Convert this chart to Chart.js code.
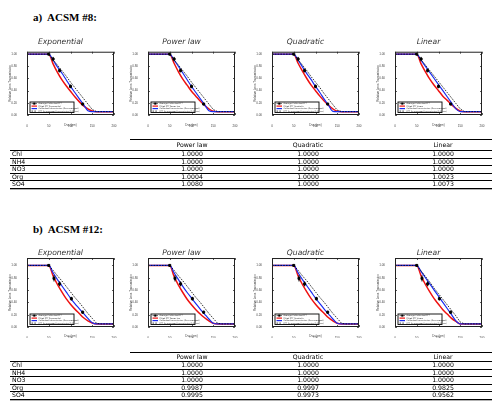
<!DOCTYPE html>
<html>
<head>
<meta charset="utf-8">
<script src="https://cdn.jsdelivr.net/npm/chart.js@4.4.0/dist/chart.umd.min.js"></script>
<style>
  body { margin: 0; width: 492px; height: 416px; position: relative; background: #fff; overflow: hidden; font-family: "DejaVu Sans", sans-serif; }
  .head { position: absolute; left: 33px; font: bold 11px "Liberation Serif", serif; line-height: 12px; white-space: pre; color: #000; }
  canvas { position: absolute; }
</style>
</head>
<body>
<div class="head" style="top:11px">a)  ACSM #8:</div>
<div class="head" style="top:223px">b)  ACSM #12:</div>
<canvas id="tables" width="492" height="416" style="left:0;top:0"></canvas>

<script>
const fitNames = ["Exponential", "Power law", "Quadratic", "Linear"];
const xTicks = [0, 50, 100, 150, 200];
const xGrid = [0, 50, 60, 70, 80, 90, 100, 110, 120, 130, 140, 150, 160, 170, 200];

// ACSM #8
const pointXA = [50, 60, 75, 100, 128];
const pointYA = [1.0, 0.92, 0.73, 0.47, 0.18];
const pointErrA = [0.01, 0.035, 0.03, 0.03, 0.02];
const redA = [
  [1, 1, 0.84, 0.70, 0.58, 0.48, 0.39, 0.30, 0.22, 0.15, 0.10, 0.065, 0.055, 0.055, 0.055],
  [1, 1, 0.85, 0.71, 0.59, 0.49, 0.39, 0.31, 0.23, 0.16, 0.10, 0.06, 0.055, 0.055, 0.055],
  [1, 1, 0.85, 0.72, 0.60, 0.49, 0.40, 0.31, 0.23, 0.16, 0.10, 0.06, 0.055, 0.055, 0.055],
  [1, 1, 0.84, 0.71, 0.59, 0.49, 0.40, 0.31, 0.24, 0.17, 0.11, 0.065, 0.055, 0.055, 0.055],
];
const blueA = [
  [1, 1, 0.90, 0.79, 0.69, 0.58, 0.47, 0.37, 0.27, 0.17, 0.07, 0.055, 0.055, 0.055, 0.055],
  [1, 1, 0.90, 0.80, 0.69, 0.58, 0.47, 0.37, 0.27, 0.17, 0.07, 0.055, 0.055, 0.055, 0.055],
  [1, 1, 0.90, 0.79, 0.68, 0.58, 0.47, 0.37, 0.26, 0.16, 0.06, 0.055, 0.055, 0.055, 0.055],
  [1, 1, 0.90, 0.80, 0.70, 0.60, 0.50, 0.40, 0.30, 0.20, 0.10, 0.055, 0.055, 0.055, 0.055],
];
const dashA = [
  [1, 1, 0.91, 0.82, 0.73, 0.64, 0.54, 0.45, 0.36, 0.27, 0.18, 0.09, 0.055, 0.055, 0.055],
  [1, 1, 0.91, 0.82, 0.73, 0.64, 0.54, 0.45, 0.36, 0.27, 0.18, 0.09, 0.055, 0.055, 0.055],
  [1, 1, 0.91, 0.82, 0.73, 0.63, 0.54, 0.45, 0.35, 0.26, 0.17, 0.08, 0.055, 0.055, 0.055],
  [1, 1, 0.91, 0.82, 0.73, 0.64, 0.55, 0.46, 0.37, 0.28, 0.19, 0.10, 0.055, 0.055, 0.055],
];

// ACSM #12
const pointXB = [50, 62, 75, 102, 128];
const pointYB = [1.0, 0.79, 0.70, 0.46, 0.24];
const pointErrB = [0.01, 0.05, 0.04, 0.03, 0.025];
const redB = [
  [1, 1, 0.83, 0.69, 0.57, 0.46, 0.37, 0.29, 0.22, 0.15, 0.10, 0.065, 0.05, 0.05, 0.05],
  [1, 1, 0.82, 0.68, 0.56, 0.45, 0.36, 0.28, 0.21, 0.15, 0.10, 0.06, 0.05, 0.05, 0.05],
  [1, 1, 0.83, 0.69, 0.57, 0.46, 0.37, 0.29, 0.22, 0.15, 0.10, 0.06, 0.05, 0.05, 0.05],
  [1, 1, 0.83, 0.69, 0.57, 0.46, 0.37, 0.28, 0.21, 0.14, 0.09, 0.05, 0.05, 0.05, 0.05],
];
const blueB = [
  [1, 1, 0.88, 0.77, 0.67, 0.57, 0.47, 0.38, 0.30, 0.22, 0.14, 0.07, 0.05, 0.05, 0.05],
  [1, 1, 0.88, 0.77, 0.66, 0.56, 0.47, 0.38, 0.29, 0.21, 0.13, 0.06, 0.05, 0.05, 0.05],
  [1, 1, 0.88, 0.77, 0.67, 0.57, 0.47, 0.38, 0.29, 0.21, 0.13, 0.06, 0.05, 0.05, 0.05],
  [1, 1, 0.90, 0.80, 0.70, 0.60, 0.50, 0.40, 0.30, 0.20, 0.10, 0.05, 0.05, 0.05, 0.05],
];
const dashB = [
  [1, 1, 0.92, 0.83, 0.75, 0.66, 0.57, 0.48, 0.40, 0.31, 0.22, 0.14, 0.06, 0.05, 0.05],
  [1, 1, 0.92, 0.83, 0.75, 0.66, 0.57, 0.48, 0.40, 0.31, 0.22, 0.14, 0.06, 0.05, 0.05],
  [1, 1, 0.92, 0.83, 0.75, 0.66, 0.57, 0.48, 0.40, 0.31, 0.22, 0.14, 0.06, 0.05, 0.05],
  [1, 1, 0.91, 0.82, 0.73, 0.63, 0.54, 0.45, 0.36, 0.27, 0.18, 0.08, 0.05, 0.05, 0.05],
];

const legendTexts = ["Average Calibrated EFF", "Fitted EFF ", "Calibrated transmission (Dva averaged)", "EFF for averaged transmission (100 nm)"];

// tables
const rowNames = ["Chl", "NH4", "NO3", "Org", "SO4"];
const colNames = ["Power law", "Quadratic", "Linear"];
const ratiosA = [
  [1.0000, 1.0000, 1.0000, 1.0004, 1.0080],
  [1.0000, 1.0000, 1.0000, 1.0000, 1.0000],
  [1.0000, 1.0000, 1.0000, 1.0023, 1.0073],
];
const ratiosB = [
  [1.0000, 1.0000, 1.0000, 0.9987, 0.9995],
  [1.0000, 1.0000, 1.0000, 0.9997, 0.9973],
  [1.0000, 1.0000, 1.0000, 0.9825, 0.9562],
];

const plotLefts = [27, 148, 272, 395];

function toXY(xs, ys) {
  const out = [];
  for (let i = 0; i < xs.length; i++) out.push({ x: xs[i], y: ys[i] });
  return out;
}

function errorBars(xs, ys, errs) {
  const out = [];
  for (let i = 0; i < xs.length; i++) {
    out.push({ x: xs[i], y: ys[i] - errs[i] });
    out.push({ x: xs[i], y: ys[i] + errs[i] });
    out.push({ x: xs[i], y: null });
  }
  return out;
}

const framePlugin = {
  id: "frame",
  afterDatasetsDraw(chart) {
    const ctx = chart.ctx;
    const a = chart.chartArea;
    const x = chart.scales.x;
    const y = chart.scales.y;
    ctx.save();

    ctx.strokeStyle = "#333";
    ctx.lineWidth = 0.8;
    ctx.beginPath();
    x.ticks.forEach(t => {
      const px = Math.round(x.getPixelForValue(t.value)) + 0.5;
      ctx.moveTo(px, a.bottom); ctx.lineTo(px, a.bottom - 2);
      ctx.moveTo(px, a.top); ctx.lineTo(px, a.top + 2);
    });
    y.ticks.forEach(t => {
      const py = Math.round(y.getPixelForValue(t.value)) + 0.5;
      ctx.moveTo(a.left, py); ctx.lineTo(a.left + 2, py);
      ctx.moveTo(a.right, py); ctx.lineTo(a.right - 2, py);
    });
    ctx.stroke();

    // legend box inside the plot, bottom left
    const w = 44, h = 10.5;
    const x0 = a.left + 3, y0 = a.bottom - 2.5 - h;
    ctx.fillStyle = "#fff";
    ctx.fillRect(x0, y0, w, h);
    ctx.strokeStyle = "#000";
    ctx.lineWidth = 0.9;
    ctx.strokeRect(x0, y0, w, h);
    ctx.font = "2px 'DejaVu Sans'";
    ctx.textBaseline = "middle";
    const items = chart.data.datasets.filter(d => d.legendText);
    items.forEach((d, i) => {
      const ly = y0 + 1.6 + i * 2.5;
      ctx.strokeStyle = d.borderColor;
      ctx.lineWidth = d.legendWidth;
      ctx.setLineDash(d.borderDash || []);
      ctx.beginPath();
      ctx.moveTo(x0 + 1.5, ly); ctx.lineTo(x0 + 7, ly);
      ctx.stroke();
      ctx.setLineDash([]);
      if (d.legendMarker) {
        ctx.fillStyle = "#000";
        ctx.fillRect(x0 + 3.3, ly - 1, 2, 2);
      }
      ctx.fillStyle = "#222";
      ctx.fillText(d.legendText, x0 + 8.5, ly);
    });

    // plot frame
    ctx.strokeStyle = "#222";
    ctx.lineWidth = 1;
    ctx.strokeRect(a.left + 0.5, a.top + 0.5, a.right - a.left - 1, a.bottom - a.top - 1);
    ctx.restore();
  }
};

function makePanel(i, top, yMax, titlePadBottom, xAxisH, set) {
  // canvas is symmetric around the plot so the title centres on it
  const canvas = document.createElement("canvas");
  canvas.width = 127;
  canvas.height = 90;
  canvas.style.left = (plotLefts[i] - 20) + "px";
  canvas.style.top = top + "px";
  document.body.appendChild(canvas);

  new Chart(canvas.getContext("2d"), {
    type: "line",
    data: {
      datasets: [
        {
          data: toXY(set.px, set.py),
          showLine: false,
          pointStyle: "rect",
          pointRadius: 1.4,
          pointBackgroundColor: "#000",
          pointBorderColor: "#000",
          borderColor: "#000",
          order: 0,
          legendText: legendTexts[0],
          legendWidth: 0.6,
          legendMarker: true,
        },
        {
          data: errorBars(set.px, set.py, set.pe),
          borderColor: "#000",
          borderWidth: 1,
          pointRadius: 0,
          spanGaps: false,
          order: 0,
        },
        {
          data: toXY(xGrid, set.red),
          borderColor: "#ee1111",
          borderWidth: 1.5,
          pointRadius: 0,
          cubicInterpolationMode: "monotone",
          order: 3,
          legendText: legendTexts[1] + fitNames[i],
          legendWidth: 1.2,
        },
        {
          data: toXY(xGrid, set.blue),
          borderColor: "#1a2cf0",
          borderWidth: 1.2,
          pointRadius: 0,
          cubicInterpolationMode: "monotone",
          order: 2,
          legendText: legendTexts[2],
          legendWidth: 1.2,
        },
        {
          data: toXY(xGrid, set.dash),
          borderColor: "#000",
          borderWidth: 0.8,
          borderDash: [1.6, 1.2],
          pointRadius: 0,
          order: 1,
          legendText: legendTexts[3],
          legendWidth: 0.7,
        },
      ],
    },
    options: {
      responsive: false,
      animation: false,
      layout: { padding: { left: 0, right: 20, top: 0, bottom: 0 } },
      plugins: {
        legend: { display: false },
        tooltip: { enabled: false },
        title: {
          display: true,
          text: fitNames[i],
          color: "#333",
          font: { family: "DejaVu Sans", size: 7.6, style: "italic", weight: "normal" },
          padding: { top: 0, bottom: titlePadBottom },
        },
      },
      scales: {
        x: {
          type: "linear",
          min: 0,
          max: 200,
          afterBuildTicks(scale) { scale.ticks = xTicks.map(v => ({ value: v })); },
          afterFit(scale) { scale.height = xAxisH; },
          ticks: { font: { size: 3 }, color: "#444", padding: 1, maxRotation: 0 },
          grid: { display: false },
          border: { display: false },
          title: { display: true, text: "Dva (nm)", font: { size: 3 }, color: "#444", padding: { top: 1, bottom: 0 } },
        },
        y: {
          min: 0,
          max: yMax,
          afterFit(scale) { scale.width = 20; },
          ticks: {
            stepSize: 0.2,
            includeBounds: false,
            font: { size: 3 },
            color: "#444",
            padding: 2,
            callback: v => v.toFixed(2),
          },
          grid: { display: false },
          border: { display: false },
          title: { display: true, text: "Relative Lens Transmission", font: { size: 3 }, color: "#444", padding: 1 },
        },
      },
    },
    plugins: [framePlugin],
  });
}

for (let i = 0; i < 4; i++) {
  makePanel(i, 37, 1.04, 5.6, 12, {
    px: pointXA, py: pointYA, pe: pointErrA,
    red: redA[i], blue: blueA[i], dash: dashA[i],
  });
  makePanel(i, 248, 1.12, 0.9, 11, {
    px: pointXB, py: pointYB, pe: pointErrB,
    red: redB[i], blue: blueB[i], dash: dashB[i],
  });
}

// the two ratio tables, drawn as plain text on a full-page canvas
const tctx = document.getElementById("tables").getContext("2d");
tctx.font = "6.2px 'DejaVu Sans'";
tctx.textBaseline = "middle";
tctx.fillStyle = "#000";

function rule(x, y, w, h) {
  tctx.fillRect(x, y, w, h || 1);
}

function buildTable(top, headH, ratios) {
  const rowH = 7.5;
  const colX = [192, 308, 443];
  rule(130, top, 362, 1);
  tctx.textAlign = "center";
  colNames.forEach((c, j) => tctx.fillText(c, colX[j], top + headH / 2 + 0.8));
  let y = top + headH;
  rule(10, y, 482, 1);
  for (let r = 0; r < rowNames.length; r++) {
    const cy = y + rowH / 2 + 0.8;
    tctx.textAlign = "left";
    tctx.fillText(rowNames[r], 12, cy);
    tctx.textAlign = "center";
    for (let j = 0; j < colNames.length; j++) {
      tctx.fillText(ratios[j][r].toFixed(4), colX[j], cy);
    }
    y += rowH;
    rule(10, Math.round(y), 482, r === rowNames.length - 1 ? 1.3 : 1);
  }
}

buildTable(139, 11, ratiosA);
buildTable(352, 9, ratiosB);
</script>
</body>
</html>
